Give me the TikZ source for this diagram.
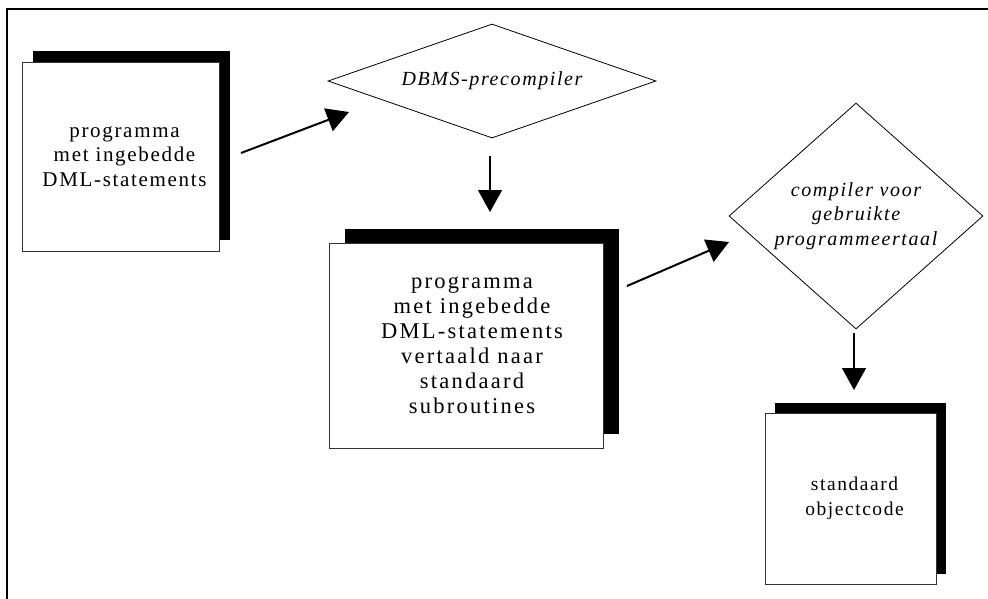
\documentclass[tikz,border=0pt]{standalone}
\usepackage{fontspec}
\setmainfont{Liberation Serif}
\newfontfamily\boxfont{Liberation Serif}[LetterSpace=8]
\newfontfamily\wideboxfont{Liberation Serif}[LetterSpace=10]
\usetikzlibrary{arrows.meta,shapes.geometric,shadows}

\tikzset{
  docbox/.style 2 args={align=center, text=black, draw=black!80,
    line width=0.8pt, fill=white, rectangle, inner sep=0pt,
    general shadow={fill=black, shadow xshift=#1, shadow yshift=#2}},
  decision/.style={align=center, text=black, diamond, draw=black,
    line width=0.8pt, fill=white, inner sep=0pt,
    font=\boxfont\fontsize{20}{24.8}\selectfont\itshape},
  flow/.style={-{Triangle[length=22pt,width=24pt]}, line width=#1},
  flow/.default=2pt
}

\begin{document}
\begin{tikzpicture}[x=1pt,y=-1pt]
  \useasboundingbox (0,0) rectangle (988,598);

  % outer frame (only its top and left edges fall inside the page)
  \draw[line width=2pt] (7,620) -- (7,9) -- (1010,9);

  % source program with embedded DML
  \node[docbox={11pt}{11pt}, minimum width=197pt, minimum height=189pt,
        font=\boxfont\fontsize{21}{24.5}\selectfont]
    (src) at (120.5,156.5) {\hspace*{8pt}programma\\\hspace*{8pt}met ingebedde\\\hspace*{8pt}DML-statements};

  % DBMS precompiler
  \node[decision, shape aspect=2.88, minimum width=328pt, minimum height=114pt]
    (pre) at (492,81) {DBMS-precompiler};

  % translated program
  \node[docbox={16pt}{14pt}, minimum width=274pt, minimum height=205pt,
        font=\wideboxfont\fontsize{22.5}{25}\selectfont]
    (mid) at (466,345.5) {\hspace*{12pt}programma\\\hspace*{12pt}met ingebedde\\\hspace*{12pt}DML-statements\\\hspace*{12pt}vertaald naar\\\hspace*{12pt}standaard\\\hspace*{12pt}subroutines};

  % host-language compiler
  \node[decision, shape aspect=1.12, minimum width=254pt, minimum height=226pt]
    (comp) at (856,216) {compiler voor\\gebruikte\\programmeertaal};

  % object code
  \node[docbox={10pt}{10pt}, minimum width=171pt, minimum height=171pt,
        font=\boxfont\fontsize{19.5}{24.5}\selectfont]
    (obj) at (850.5,498.5) {\hspace*{8pt}standaard\\\hspace*{8pt}objectcode};

  % connector end points
  \coordinate (a1s) at (241,153);  \coordinate (a1e) at (349,112);
  \coordinate (a2s) at (490,156);  \coordinate (a2e) at (490,212);
  \coordinate (a3s) at (627,286);  \coordinate (a3e) at (729,242);
  \coordinate (a4s) at (854,333);  \coordinate (a4e) at (854,390);

  \draw[flow] (a1s) -- (a1e);
  \draw[flow=1.5pt] (a2s) -- (a2e);
  \draw[flow] (a3s) -- (a3e);
  \draw[flow=1.5pt] (a4s) -- (a4e);
\end{tikzpicture}
\end{document}
